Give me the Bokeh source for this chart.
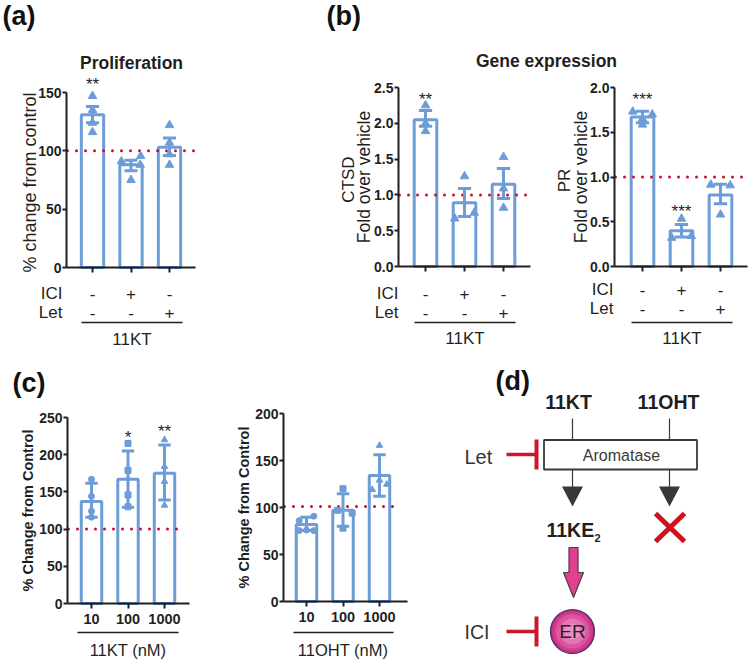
from math import pi
from bokeh.plotting import figure
from bokeh.layouts import column, row
from bokeh.models import Range1d, LinearAxis, FixedTicker, NumeralTickFormatter
from bokeh.core.properties import value
from bokeh.embed import file_html
from bokeh.resources import INLINE

FONT = "Liberation Sans"
BLUE = "#6c9dd8"
RED = "#c8102e"
INK = "#1f1f1f"

# ---- data ----
groups = [1, 2, 3]
sign_ici = ["-", "+", "-"]
sign_let = ["-", "-", "+"]

prolif_mean = [131, 88, 103]
prolif_lo = [124, 83, 96]
prolif_hi = [138, 92, 111]
prolif_x = [1, 1, 1, 1, 1.75, 2.25, 2.24, 2, 3, 3, 3, 3]
prolif_y = [147, 135, 124, 116, 91, 95.5, 88, 75, 122, 107, 97, 88]

ctsd_mean = [2.05, 0.89, 1.15]
ctsd_lo = [1.96, 0.70, 0.95]
ctsd_hi = [2.18, 1.09, 1.37]
ctsd_x = [1, 1, 1, 2, 1.75, 2.25, 3, 3, 3]
ctsd_y = [2.25, 2.0, 1.89, 1.26, 0.67, 0.75, 1.53, 1.09, 0.82]

pr_mean = [1.67, 0.40, 0.80]
pr_lo = [1.605, 0.33, 0.70]
pr_hi = [1.735, 0.47, 0.918]
pr_x = [0.75, 1.25, 1, 1, 2, 1.75, 2.25, 2.75, 3.25, 3]
pr_y = [1.73, 1.70, 1.65, 1.585, 0.534, 0.32, 0.34, 0.914, 0.906, 0.58]

kt_labels = ["10", "100", "1000"]
kt_mean = [137, 167, 175]
kt_lo = [116, 129.5, 139]
kt_hi = [161.5, 205, 213]
kt_y1 = [167, 144, 124, 116]
kt_y2 = [215, 179, 146, 130]
kt_y3 = [220, 184, 164, 132]

oht_mean = [82, 97, 134]
oht_lo = [75.5, 80, 112]
oht_hi = [89.7, 114.6, 156]
oht_cx = [0.8, 1.2, 0.8, 1.2, 1.0]
oht_cy = [86, 90.7, 75.4, 75.4, 76]
oht_sx = [2, 1.85, 2.25, 2]
oht_sy = [120, 97, 94, 78]
oht_tx = [3, 3, 2.8, 3.2]
oht_ty = [166, 129, 119, 124.6]


class Panel:
    def __init__(self, rect, axis_x=None, axis_end=None, y_bot=None, y_top=None, vmax=None, centers=None):
        cx, cy, w, h = rect
        if centers is None:
            self.u, self.c0, self.base = 1.0, 0.0, 0.0
        else:
            self.u = (centers[2] - centers[0]) / 2.0
            self.c0 = centers[0]
            self.base = 1.0
        self.yb = y_bot if y_bot is not None else 0
        self.vpp = vmax / (y_bot - y_top) if vmax else -1.0
        self.axis_x = axis_x
        self.axis_end = axis_end
        p = figure(width=w, height=h, output_backend="svg", toolbar_location=None,
                   x_axis_location=None, y_axis_location=None,
                   x_range=Range1d(self.X(cx), self.X(cx + w)),
                   y_range=Range1d(self.Y(cy + h), self.Y(cy)),
                   min_border=0, min_border_left=0, min_border_right=0,
                   min_border_top=0, min_border_bottom=0,
                   outline_line_color=None, background_fill_color="white", margin=(0, 0, 0, 0))
        p.grid.visible = False
        self.p = p

    def X(self, px):
        return self.base + (px - self.c0) / self.u

    def Y(self, py):
        return (self.yb - py) * self.vpp

    def text(self, px, py, s, size, bold=False, align="center", angle=0, color=INK):
        self.p.text(x=[self.X(px)], y=[self.Y(py)], text=[s], angle=angle,
                    text_font=value(FONT), text_font_size=f"{size}px",
                    text_font_style="bold" if bold else "normal",
                    text_align=align, text_baseline="middle", text_color=color)

    def hline(self, x0, x1, py, width=1.5, color=INK):
        self.p.line([self.X(x0), self.X(x1)], [self.Y(py), self.Y(py)], line_width=width, line_color=color)

    def axes(self, yticks, ytitle, x_labels=None, label_standoff=4, title_size=17, title_bold=False, fmt=None):
        p = self.p
        y_ax = LinearAxis(ticker=FixedTicker(ticks=yticks), fixed_location=self.X(self.axis_x),
                          bounds=(yticks[0], yticks[-1]),
                          axis_line_width=2, axis_line_color=INK,
                          major_tick_line_width=2, major_tick_line_color=INK,
                          major_tick_out=4, major_tick_in=0, minor_tick_out=0, minor_tick_in=0,
                          major_label_standoff=1,
                          major_label_text_font=FONT, major_label_text_font_size="14px",
                          major_label_text_font_style="bold", major_label_text_color=INK,
                          axis_label=ytitle, axis_label_text_font=FONT,
                          axis_label_text_font_size=f"{title_size}px",
                          axis_label_text_font_style="bold" if title_bold else "normal",
                          axis_label_text_color=INK, axis_label_standoff=label_standoff)
        if fmt:
            y_ax.formatter = NumeralTickFormatter(format=fmt)
        p.add_layout(y_ax, "left")
        x_ax = LinearAxis(ticker=FixedTicker(ticks=groups), fixed_location=0,
                          bounds=(self.X(self.axis_x), self.X(self.axis_end)),
                          axis_line_width=2, axis_line_color=INK,
                          major_tick_line_width=2, major_tick_line_color=INK,
                          major_tick_out=5, major_tick_in=0, minor_tick_out=0, minor_tick_in=0,
                          major_label_standoff=5,
                          major_label_text_font=FONT, major_label_text_font_size="14.5px",
                          major_label_text_font_style="bold", major_label_text_color=INK)
        if x_labels:
            x_ax.major_label_overrides = {g: t for g, t in zip(groups, x_labels)}
        else:
            x_ax.major_label_text_color = None
        p.add_layout(x_ax, "below")

    def bars(self, mean, lo, hi, ref, ref_end, bar_w, cap=0.17, lw=3):
        p = self.p
        p.vbar(x=groups, top=mean, bottom=0, width=bar_w, fill_color="white", line_color=BLUE, line_width=lw)
        p.line([self.X(self.axis_x + 1), self.X(ref_end)], [ref, ref], line_color=RED, line_width=3,
               line_dash="0 9", line_cap="round")
        p.segment(x0=groups, x1=groups, y0=lo, y1=hi, line_color=BLUE, line_width=lw)
        for ends in (lo, hi):
            p.segment(x0=[g - cap for g in groups], x1=[g + cap for g in groups], y0=ends, y1=ends,
                      line_color=BLUE, line_width=lw)

    def signs(self, centers, y_ici, y_let, right, ul, y_ul, name_y, name="11KT"):
        self.text(right, y_ici, "ICI", 17, align="right")
        self.text(right, y_let, "Let", 17, align="right")
        for c, a, b in zip(centers, sign_ici, sign_let):
            self.text(c, y_ici, a, 17)
            self.text(c, y_let, b, 17)
        self.hline(ul[0], ul[1], y_ul)
        self.text(sum(ul) / 2, name_y, name, 17)


# ---- (a) ----
A = Panel((0, 0, 310, 350), 66, 195, 267, 92, 150, [92, 130.5, 169])
A.axes([0, 50, 100, 150], "% change from  control", label_standoff=-5, title_size=18)
A.bars(prolif_mean, prolif_lo, prolif_hi, 100, 194, 0.58)
A.p.scatter(prolif_x, prolif_y, marker="triangle", size=8.5, color=BLUE)
A.text(2, 15, "(a)", 27, bold=True, align="left", color="#111111")
A.text(131, 62, "Proliferation", 17.5, bold=True)
A.text(92, 84, "**", 17)
A.signs([92, 130.5, 169], 293, 312, 62, (81, 182), 322, 339)

# ---- (b) header ----
BH = Panel((310, 0, 440, 75))
BH.text(326, 15, "(b)", 27, bold=True, align="left", color="#111111")
BH.text(546, 60, "Gene expression", 17.5, bold=True)

# ---- (b) CTSD ----
B1 = Panel((310, 75, 230, 275), 398, 530, 266, 87, 2.5, [425, 464, 503])
B1.axes([0, 0.5, 1, 1.5, 2, 2.5], "Fold over vehicle", label_standoff=-3, title_size=17.5, fmt="0.0")
B1.bars(ctsd_mean, ctsd_lo, ctsd_hi, 1, 528, 0.58)
B1.p.scatter(ctsd_x, ctsd_y, marker="triangle", size=8.5, color=BLUE)
B1.text(348, 179, "CTSD", 17, angle=pi / 2)
B1.text(425, 99, "**", 17)
B1.signs([425, 464, 503], 293, 312, 398, (414, 515), 322, 338)

# ---- (b) PR ----
B2 = Panel((540, 75, 210, 275), 614, 747, 266, 87, 2.0, [642, 681, 720])
B2.axes([0, 0.5, 1, 1.5, 2], "Fold over vehicle", label_standoff=-4, title_size=17.5, fmt="0.0")
B2.bars(pr_mean, pr_lo, pr_hi, 1, 746, 0.58)
B2.p.scatter(pr_x, pr_y, marker="triangle", size=8.5, color=BLUE)
B2.text(564, 180, "PR", 17, angle=pi / 2)
B2.text(642, 99, "***", 17)
B2.text(681, 211, "***", 17)
B2.signs([642, 681, 720], 289, 308, 613, (631, 732), 322, 338)

# ---- (c) 11KT ----
C1 = Panel((0, 350, 225, 311), 67, 189, 603, 417, 250, [91, 127.5, 164])
C1.axes([0, 50, 100, 150, 200, 250], "% Change from Control", kt_labels, label_standoff=0,
        title_size=14.5, title_bold=True)
C1.bars(kt_mean, kt_lo, kt_hi, 100, 180, 0.56)
C1.p.scatter([1] * 4, kt_y1, marker="circle", size=6, color=BLUE)
C1.p.scatter([2] * 4, kt_y2, marker="square", size=6, color=BLUE)
C1.p.scatter([3] * 4, kt_y3, marker="triangle", size=6.5, color=BLUE)
C1.text(12, 382, "(c)", 27, bold=True, align="left", color="#111111")
C1.text(127.5, 437, "*", 17)
C1.text(164, 431, "**", 17)
C1.hline(77, 178, 632)
C1.text(127.5, 649, "11KT (nM)", 16.5)

# ---- (c) 11OHT ----
C2 = Panel((225, 350, 205, 311), 283, 407, 601, 413, 200, [306, 342.5, 379])
C2.axes([0, 50, 100, 150, 200], "% Change from Control", kt_labels, label_standoff=0,
        title_size=14.5, title_bold=True)
C2.bars(oht_mean, oht_lo, oht_hi, 101, 401, 0.56)
C2.p.scatter(oht_cx, oht_cy, marker="circle", size=6, color=BLUE)
C2.p.scatter(oht_sx, oht_sy, marker="square", size=6, color=BLUE)
C2.p.scatter(oht_tx, oht_ty, marker="triangle", size=6.5, color=BLUE)
C2.hline(293, 393, 632)
C2.text(342.5, 649, "11OHT (nM)", 16.5)

# ---- (d) diagram ----
D = Panel((430, 350, 320, 311))
pd = D.p
DARK = "#3a3838"


def seg(x0, y0, x1, y1, w, c):
    pd.line([D.X(x0), D.X(x1)], [D.Y(y0), D.Y(y1)], line_width=w, line_color=c)


def tri(xs, ys, fill, line=None):
    pd.patch([D.X(v) for v in xs], [D.Y(v) for v in ys], fill_color=fill, line_color=line, line_width=1.2)


D.text(495, 380, "(d)", 27, bold=True, align="left", color="#111111")
D.text(568, 401, "11KT", 19.5, bold=True)
D.text(668, 401, "11OHT", 19.5, bold=True)
seg(572, 418, 572, 439, 1.2, DARK)
seg(669, 418, 669, 439, 1.2, DARK)
pd.quad(left=[D.X(543.5)], right=[D.X(696.5)], top=[D.Y(439.5)], bottom=[D.Y(469)],
        fill_color="white", line_color=DARK, line_width=1.8)
D.text(621, 455, "Aromatase", 16, color="#3a3a3a")
D.text(464, 456, "Let", 20, align="left", color="#333333")
D.text(464, 631, "ICI", 19.5, align="left", color="#333333")
for yc in (454, 631):
    seg(506, yc, 536, yc, 3.5, "#c8172f")
    seg(536, yc - 15, 536, yc + 15, 4, "#c8172f")
for xc in (572, 669):
    seg(xc, 469, xc, 487, 1.2, DARK)
    tri([xc - 10.5, xc + 10.5, xc], [486, 486, 506], DARK)
seg(655, 513, 684, 541, 5, "#d0121f")
seg(684, 513, 655, 541, 5, "#d0121f")
D.text(546, 529, "11KE", 19.5, bold=True, align="left")
D.text(594, 537, "2", 11, bold=True, align="left")
tri([568.5, 577.5, 577.5, 583, 573, 563, 568.5], [547, 547, 572, 572, 597, 572, 572], "#e2408f", "#4a3a4a")
for r, c in ((22, "#c42a80"), (20, "#d13c8e"), (17, "#dc559f"), (13, "#e574b0"), (8, "#ec90c0")):
    pd.circle(x=[D.X(572)], y=[D.Y(631)], radius=r, radius_units="screen", fill_color=c,
              line_color="#3c2f6a" if r == 22 else None, line_width=1.2)
D.text(572, 631, "ER", 19, color="#2a2030")

page = column(
    row(A.p, column(BH.p, row(B1.p, B2.p, spacing=0), spacing=0), spacing=0),
    row(C1.p, C2.p, D.p, spacing=0),
    spacing=0, margin=(0, 0, 0, 0),
)
open("out.html", "w").write(file_html(page, INLINE))
